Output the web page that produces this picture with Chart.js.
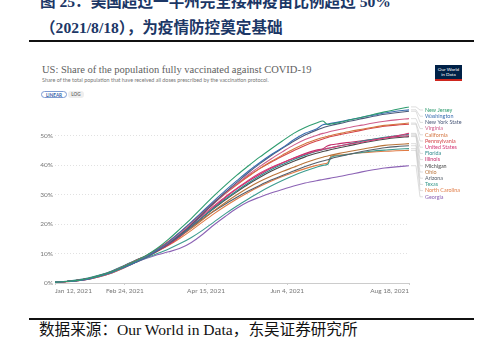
<!DOCTYPE html>
<html>
<head>
<meta charset="utf-8">
<script src="https://cdn.jsdelivr.net/npm/chart.js@4.4.0/dist/chart.umd.min.js"></script>
<style>
body { margin: 0; width: 490px; height: 350px; background: #fff; position: relative; overflow: hidden; font-family: Lato, sans-serif; }
.fig-title { position: absolute; left: 40px; top: -11px; font: bold 15.6px/26px "Liberation Serif", "Noto Sans CJK SC"; color: #1c3766; white-space: nowrap; }
.rule { position: absolute; left: 29px; width: 445px; background: #111; }
.owid-title { position: absolute; left: 42px; top: 64px; font: 10.5px "Liberation Serif", serif; color: #5e5e5e; white-space: nowrap; }
.owid-sub { position: absolute; left: 42px; top: 77px; font: 5.4px Lato, sans-serif; color: #777; white-space: nowrap; }
.btn { position: absolute; top: 91px; height: 7px; font: bold 4.6px/7px Lato, sans-serif; text-align: center; box-sizing: border-box; }
.logo { position: absolute; left: 435px; top: 65px; width: 27px; height: 16px; background: #002147; border-bottom: 2px solid #ce261e; box-sizing: border-box; color: #fff; font: 4.6px/5.4px Lato, sans-serif; text-align: center; padding-top: 2px; }
.wrap { position: absolute; left: 30px; top: 100px; width: 440px; height: 200px; }
.source { position: absolute; left: 39px; top: 321px; font: 15.6px/18px "Liberation Serif", "Noto Sans CJK SC"; color: #111; white-space: nowrap; }
</style>
</head>
<body>
<div class="fig-title">图 25：美国超过一半州完全接种疫苗比例超过 50%<br>（2021/8/18），为疫情防控奠定基础</div>
<div class="rule" style="top:40px;height:2px"></div>
<div class="owid-title">US: Share of the population fully vaccinated against COVID-19</div>
<div class="owid-sub">Share of the total population that have received all doses prescribed by the vaccination protocol.</div>
<div class="btn" style="left:41px;width:26px;border:0.7px solid #7d9bd3;border-radius:4px;color:#3360a9">LINEAR</div>
<div class="btn" style="left:68px;width:16px;background:#eee;border-radius:3px;color:#777">LOG</div>
<div class="logo">Our World<br>in Data</div>
<div class="wrap"><canvas id="chart"></canvas></div>
<div class="rule" style="top:318px;height:1.6px"></div>
<div class="source">数据来源：Our World in Data，东吴证券研究所</div>

<script>
// days since Jan 12, 2021
const days = [0, 7, 14, 21, 28, 35, 42, 49, 56, 63, 70, 77, 84, 91, 98, 105, 112, 119, 126, 133, 140, 147, 154, 161, 165, 168, 170, 175, 182, 189, 196, 203, 210, 218];
const tickDays = [0, 43, 93, 143, 218];
const tickLabels = ["Jan 12, 2021", "Feb 24, 2021", "Apr 15, 2021", "Jun 4, 2021", "Aug 18, 2021"];

const newJersey = [0.3, 0.5, 0.9, 1.6, 2.6, 3.8, 5.5, 7.3, 9.3, 11.8, 14.9, 18.4, 22.0, 25.9, 29.7, 33.3, 36.7, 39.8, 42.8, 45.6, 48.3, 50.9, 52.9, 54.4, 55.1, 53.9, 54.1, 54.6, 55.5, 56.4, 57.3, 58.2, 59.0, 59.9];
const washington = [0.3, 0.5, 0.8, 1.4, 2.4, 3.6, 5.2, 6.9, 8.8, 11.2, 14.0, 17.3, 20.8, 24.4, 28.0, 31.5, 34.8, 38.0, 40.9, 43.6, 46.0, 48.7, 50.9, 52.4, 53.8, 54.1, 54.3, 54.8, 55.6, 56.4, 57.1, 57.8, 58.4, 58.9];
const newYork = [0.3, 0.5, 0.9, 1.5, 2.5, 3.7, 5.3, 6.9, 8.7, 10.9, 13.4, 16.4, 19.8, 23.5, 27.3, 30.9, 34.2, 37.5, 40.5, 43.3, 45.8, 48.2, 50.3, 52.0, 52.8, 53.3, 53.6, 54.2, 55.1, 55.9, 56.7, 57.4, 57.9, 58.4];
const virginia = [0.3, 0.4, 0.8, 1.4, 2.4, 3.6, 5.3, 7.1, 8.9, 11.1, 13.6, 16.8, 20.2, 23.7, 27.2, 30.6, 33.7, 36.8, 39.6, 42.2, 44.6, 46.9, 48.8, 50.2, 50.9, 51.3, 51.6, 52.2, 53.0, 53.7, 54.4, 55.0, 55.5, 55.9];
const california = [0.3, 0.4, 0.8, 1.3, 2.2, 3.4, 5.0, 6.9, 8.8, 11.0, 13.5, 16.6, 20.1, 23.6, 27.1, 30.4, 33.4, 36.2, 38.9, 41.3, 43.5, 45.6, 47.4, 48.8, 49.5, 49.9, 50.2, 50.8, 51.6, 52.3, 53.0, 53.6, 54.0, 54.4];
const pennsylvania = [0.3, 0.5, 0.9, 1.5, 2.5, 3.7, 5.4, 7.3, 9.2, 11.6, 14.2, 17.3, 20.6, 24.1, 27.5, 30.7, 33.6, 36.4, 38.9, 41.1, 43.1, 45.0, 46.8, 48.3, 49.0, 49.5, 49.8, 50.4, 51.2, 52.0, 52.7, 53.3, 53.7, 54.0];
const unitedStates = [0.3, 0.5, 0.9, 1.5, 2.5, 3.8, 5.6, 7.4, 9.1, 11.3, 13.7, 16.6, 19.8, 23.1, 26.3, 29.4, 32.2, 34.9, 37.3, 39.3, 40.9, 42.4, 43.8, 44.9, 45.4, 45.8, 46.0, 46.6, 47.3, 47.9, 48.6, 49.3, 50.0, 50.9];
const florida = [0.3, 0.6, 1.1, 1.8, 2.8, 4.1, 5.8, 7.6, 9.2, 11.2, 13.4, 16.1, 19.2, 22.5, 25.6, 28.6, 31.4, 34.0, 36.4, 38.5, 40.3, 42.0, 43.5, 44.8, 45.4, 45.8, 46.0, 46.6, 47.4, 48.2, 48.9, 49.6, 50.1, 50.6];
const illinois = [0.3, 0.5, 0.9, 1.5, 2.4, 3.6, 5.3, 7.1, 8.8, 10.8, 13.0, 15.8, 19.1, 22.5, 25.9, 29.1, 32.0, 34.6, 36.9, 39.0, 40.8, 42.5, 44.0, 45.2, 45.7, 46.7, 47.0, 47.4, 47.9, 48.4, 48.9, 49.4, 49.8, 50.1];
const michigan = [0.3, 0.5, 0.9, 1.5, 2.5, 3.8, 5.5, 7.3, 9.0, 11.1, 13.4, 16.2, 19.3, 22.4, 25.4, 28.3, 31.0, 33.6, 35.9, 38.0, 39.8, 41.4, 42.9, 44.1, 44.7, 45.1, 45.4, 46.0, 46.8, 47.6, 48.3, 48.9, 49.4, 49.8];
const ohio = [0.3, 0.5, 0.9, 1.5, 2.5, 3.8, 5.6, 7.5, 9.2, 11.2, 13.3, 15.8, 18.6, 21.6, 24.6, 27.4, 30.0, 32.4, 34.5, 36.3, 37.9, 39.4, 40.9, 42.2, 42.8, 43.2, 43.5, 44.1, 44.8, 45.5, 46.2, 46.8, 47.1, 47.4];
const arizona = [0.3, 0.5, 0.9, 1.6, 2.7, 4.0, 5.7, 7.5, 9.3, 11.4, 13.6, 16.2, 19.0, 21.9, 24.5, 26.9, 29.2, 31.3, 33.2, 35.0, 36.6, 38.1, 39.6, 40.9, 41.5, 41.9, 42.3, 43.0, 43.9, 44.7, 45.4, 46.0, 46.4, 46.7];
const texas = [0.3, 0.5, 0.9, 1.5, 2.4, 3.6, 5.2, 6.9, 8.5, 10.0, 11.6, 13.4, 15.5, 18.0, 20.8, 23.6, 26.2, 28.6, 30.9, 33.0, 34.9, 36.6, 38.1, 39.4, 40.0, 40.4, 42.8, 43.3, 43.9, 44.4, 44.9, 45.2, 45.5, 45.7];
const northCarolina = [0.3, 0.5, 0.9, 1.6, 2.6, 3.9, 5.6, 7.3, 8.9, 10.8, 12.8, 15.2, 17.9, 20.8, 23.6, 26.2, 28.6, 30.8, 32.8, 34.6, 36.2, 37.6, 38.9, 40.0, 40.5, 40.9, 43.1, 43.5, 43.9, 44.3, 44.6, 44.8, 45.0, 45.1];
const georgia = [0.3, 0.5, 0.8, 1.3, 2.2, 3.4, 5.0, 6.8, 8.3, 9.6, 10.6, 11.8, 13.8, 16.6, 19.8, 22.7, 25.4, 27.6, 29.2, 30.6, 31.8, 33.0, 34.0, 34.8, 35.2, 35.5, 35.7, 36.2, 37.0, 37.8, 38.5, 39.1, 39.5, 39.9];

const names = ["New Jersey", "Washington", "New York State", "Virginia", "California", "Pennsylvania", "United States", "Florida", "Illinois", "Michigan", "Ohio", "Arizona", "Texas", "North Carolina", "Georgia"];
const series = [newJersey, washington, newYork, virginia, california, pennsylvania, unitedStates, florida, illinois, michigan, ohio, arizona, texas, northCarolina, georgia];
const colors = ["#2e9c6f", "#3b6fb0", "#4c5a7a", "#cf5c8a", "#d3743f", "#d5454a", "#d43a76", "#2f8a8c", "#c42c6a", "#4a4a4a", "#b8743a", "#555f6b", "#3d9c8f", "#e07b45", "#8c63b5"];

// labels on the right, stacked, with thin connectors to the line ends
const endLabels = {
    id: "endLabels",
    afterDatasetsDraw(chart) {
        const ctx = chart.ctx;
        ctx.save();
        ctx.font = "5.4px Lato";
        ctx.textBaseline = "middle";
        chart.data.datasets.forEach(function (ds, i) {
            const pts = chart.getDatasetMeta(i).data;
            const last = pts[pts.length - 1];
            const ly = 10 + i * 6.2;
            ctx.strokeStyle = "#c8c8c8";
            ctx.lineWidth = 0.6;
            ctx.beginPath();
            ctx.moveTo(last.x + 2, last.y);
            ctx.lineTo(last.x + 7, last.y);
            ctx.lineTo(last.x + 11, ly);
            ctx.lineTo(last.x + 14, ly);
            ctx.stroke();
            ctx.fillStyle = ds.borderColor;
            ctx.fillText(ds.label, last.x + 16, ly);
        });
        ctx.restore();
    }
};

new Chart(document.getElementById("chart").getContext("2d"), {
    type: "line",
    data: {
        datasets: series.map(function (arr, i) {
            return {
                label: names[i],
                data: days.map(function (d, k) { return {x: d, y: arr[k]}; }),
                borderColor: colors[i],
                borderWidth: 1.1,
                pointRadius: 0,
                cubicInterpolationMode: "monotone"
            };
        })
    },
    options: {
        responsive: true,
        maintainAspectRatio: false,
        animation: false,
        layout: {padding: {top: 6.6, right: 61, bottom: 0, left: 0}},
        plugins: {legend: {display: false}, tooltip: {enabled: false}},
        scales: {
            x: {
                type: "linear",
                min: 0,
                max: 218,
                afterBuildTicks: function (s) { s.ticks = tickDays.map(function (v) { return {value: v}; }); },
                afterFit: function (s) { s.height = 17; },
                grid: {drawOnChartArea: false, drawTicks: true, tickLength: 2, color: "#ccc"},
                border: {color: "#ccc", width: 1},
                ticks: {
                    autoSkip: false,
                    maxRotation: 0,
                    align: "inner",
                    padding: 2,
                    color: "#777",
                    font: {family: "Lato", size: 6.5},
                    callback: function (v) { return tickLabels[tickDays.indexOf(v)]; }
                }
            },
            y: {
                min: 0,
                max: 60,
                afterBuildTicks: function (s) { s.ticks = s.ticks.filter(function (t) { return t.value <= 50; }); },
                afterFit: function (s) { s.width = 25; },
                grid: {color: "#d9d9d9", drawTicks: false, lineWidth: 0.8},
                border: {display: false, dash: [1, 2]},
                ticks: {
                    stepSize: 10,
                    padding: 2,
                    color: "#777",
                    font: {family: "Lato", size: 6.5},
                    callback: function (v) { return v + "%"; }
                }
            }
        }
    },
    plugins: [endLabels]
});
</script>
</body>
</html>
